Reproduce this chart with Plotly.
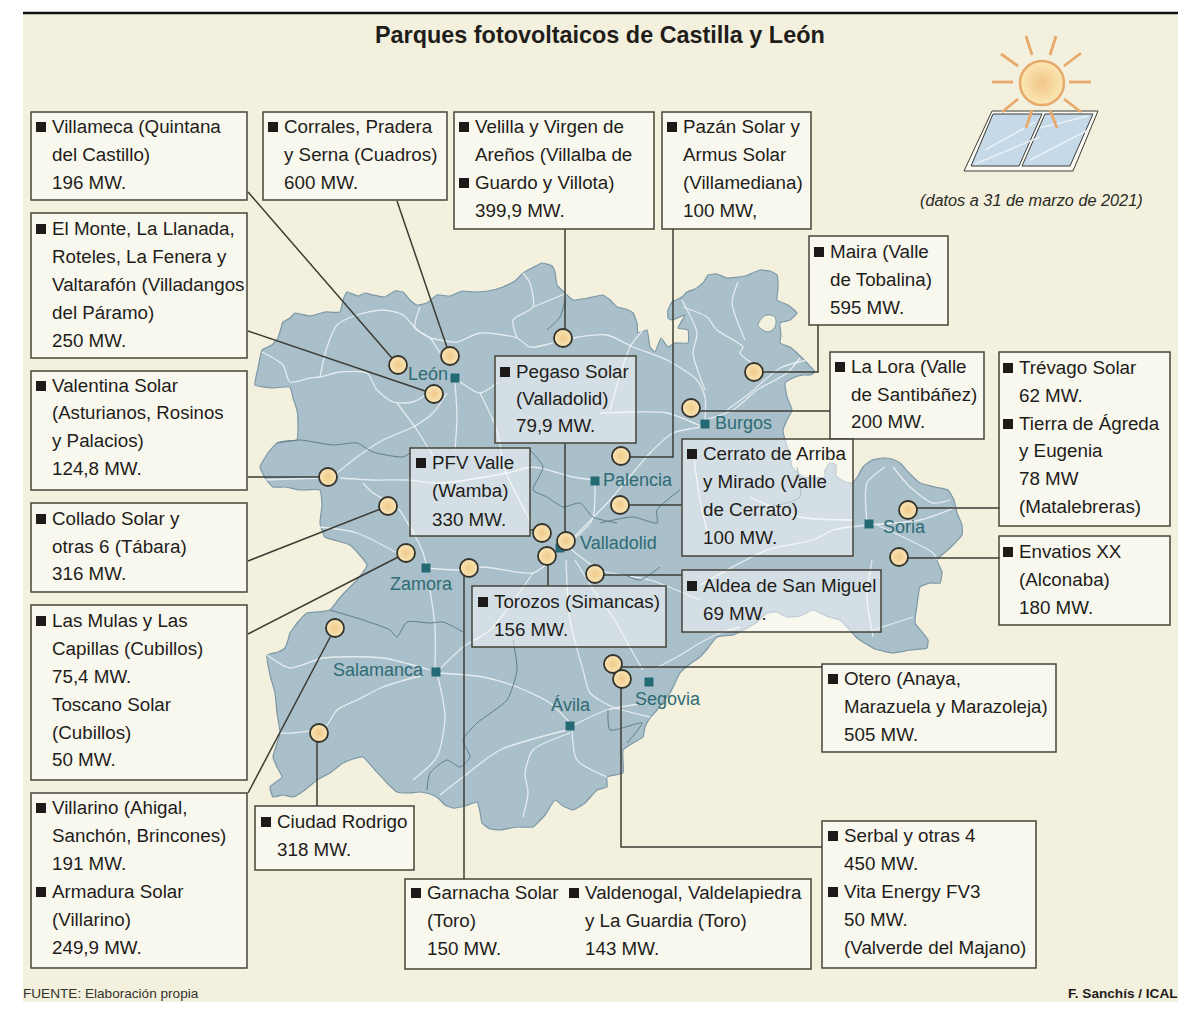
import plotly.graph_objects as go

# ---------- map geometry ----------
region_outline = [(255,385),(258,368),(262,350),(272,345),(278,338),(281,328),(283,322),(290,318),(295,313),(310,316),(325,312),(340,312),(343,300),(347,292),(358,296),(365,293),(373,295),(385,297),(395,291),(403,292),(410,300),(417,305),(427,303),(437,295),(450,296),(462,291),(473,292),(488,291),(503,287),(515,281),(523,273),(532,268),(542,263),(552,266),(555,272),(557,285),(565,293),(573,300),(588,298),(603,295),(610,300),(617,307),(626,309),(633,313),(637,323),(638,333),(647,330),(650,347),(655,352),(661,338),(668,347),(675,343),(688,343),(688,330),(678,328),(685,315),(672,320),(668,318),(668,310),(672,302),(682,297),(687,292),(695,289),(703,283),(708,275),(717,274),(727,278),(745,276),(760,270),(770,271),(777,275),(778,288),(777,300),(788,305),(797,313),(790,320),(780,323),(781,335),(780,343),(790,347),(797,353),(806,362),(815,372),(810,375),(803,375),(793,378),(785,383),(787,397),(792,410),(787,420),(783,430),(785,440),(790,455),(792,467),(803,477),(825,477),(825,470),(830,463),(836,465),(836,476),(845,482),(852,483),(858,476),(863,467),(872,460),(883,458),(892,459),(900,463),(910,474),(920,483),(935,487),(948,490),(954,500),(957,513),(962,525),(962,535),(950,548),(937,560),(942,572),(940,583),(930,583),(920,587),(917,605),(915,623),(922,632),(928,640),(927,648),(910,650),(893,653),(875,649),(857,638),(848,628),(840,620),(826,616),(813,610),(800,616),(787,617),(777,612),(767,613),(757,622),(747,628),(733,635),(717,637),(708,648),(700,657),(690,664),(680,673),(675,683),(670,693),(663,702),(657,710),(650,718),(645,727),(643,737),(633,743),(623,750),(623,773),(607,777),(607,787),(597,790),(585,803),(573,810),(563,806),(555,800),(545,815),(533,827),(517,827),(500,830),(490,829),(482,823),(480,812),(477,802),(465,806),(453,808),(445,805),(438,798),(430,794),(420,792),(408,793),(397,792),(387,783),(375,770),(363,757),(353,759),(343,763),(330,773),(317,780),(305,790),(293,797),(283,795),(273,797),(270,787),(282,777),(277,767),(273,757),(280,733),(277,713),(275,693),(270,675),(267,655),(278,652),(285,648),(288,640),(290,633),(298,622),(307,613),(318,612),(330,610),(338,600),(345,592),(357,580),(367,565),(350,545),(325,537),(320,523),(322,505),(320,490),(300,490),(285,487),(273,487),(265,478),(260,467),(268,453),(277,443),(285,441),(297,440),(298,425),(297,410),(293,398),(290,387),(272,388)]

trevino_hole = [(758,325),(762,318),(767,315),(775,317),(775,327),(768,332),(760,328)]

roads = [
    [(262,352),(283,365),(290,382),(310,378),(320,377),(340,372),(367,373),(377,390),(393,402),(413,402),(433,390)],
    [(320,377),(327,347),(337,325),(357,315),(383,310),(403,315),(417,330),(430,338),(440,353)],
    [(420,307),(415,327),(430,338)],
    [(430,338),(457,342),(480,333),(517,338),(530,347),(553,343)],
    [(573,338),(607,335),(633,347),(667,360),(697,380),(705,397),(705,420)],
    [(517,338),(513,320),(533,307),(530,283),(523,273)],
    [(533,307),(567,293)],
    [(455,383),(457,417),(455,450)],
    [(447,393),(433,413),(413,427),(383,440),(357,457),(337,473)],
    [(397,403),(417,430),(437,463)],
    [(340,478),(373,480),(407,480),(440,483),(507,473),(533,467),(573,477),(593,480)],
    [(455,378),(480,393),(497,383)],
    [(480,393),(497,430),(505,470),(530,520)],
    [(262,480),(320,478)],
    [(363,483),(373,493),(397,507),(410,527),(422,550),(427,567)],
    [(320,527),(357,533),(397,553)],
    [(427,568),(460,570),(483,567),(533,573),(548,563)],
    [(430,590),(435,627),(435,670)],
    [(437,672),(463,647),(490,630),(533,573)],
    [(267,655),(290,668),(323,658),(383,658),(430,670)],
    [(423,675),(383,687),(357,700),(337,710),(325,727),(293,733),(278,733)],
    [(437,673),(483,677),(517,687),(550,703),(570,723)],
    [(438,677),(445,717),(437,757),(413,780)],
    [(567,730),(500,750),(463,777),(440,795)],
    [(572,730),(577,760),(607,777)],
    [(570,733),(533,750),(525,773),(528,793),(523,817)],
    [(570,727),(607,710),(647,703)],
    [(566,560),(570,620),(583,670),(590,693),(613,707),(650,717)],
    [(575,560),(600,600),(613,617),(633,653),(643,670)],
    [(658,667),(677,657),(700,643),(720,633),(740,627)],
    [(566,545),(610,500),(650,453),(673,433),(703,427)],
    [(705,420),(733,410),(757,390),(787,373),(800,358)],
    [(727,410),(750,393),(780,368),(807,360)],
    [(682,300),(697,333),(693,353),(705,390)],
    [(683,307),(707,317),(717,330),(743,347),(740,353),(767,373)],
    [(738,282),(732,303),(745,340)],
    [(600,413),(633,412),(667,413),(703,427)],
    [(610,410),(630,347),(643,330)],
    [(867,525),(920,520),(957,507)],
    [(867,525),(833,530),(813,540),(767,550),(700,585)],
    [(885,467),(867,483),(867,523)],
    [(893,467),(910,487),(933,503),(950,500)],
    [(877,525),(933,553),(937,560)],
    [(750,497),(800,517),(853,520)],
    [(872,560),(867,597),(873,637)],
    [(873,630),(913,617)],
    [(693,450),(700,500),(710,543)],
    [(566,545),(600,570),(650,580),(700,600)],
    [(595,481),(592,520),(566,545)],
]

province_borders = [
    [(277,443),(300,440),(333,445),(357,443),(373,452),(403,457),(410,453)],
    [(565,300),(560,317),(547,330)],
    [(530,450),(543,467),(533,490),(547,497),(563,507),(580,503),(593,517),(617,523)],
    [(330,610),(363,620),(390,630),(397,637),(407,622),(430,623),(443,622),(463,632)],
    [(513,640),(517,670),(507,700),(477,723),(463,740),(470,757),(460,767),(447,760),(430,773),(427,790)],
    [(608,710),(610,730),(642,723),(627,743)],
    [(797,467),(800,497),(770,507)],
    [(600,523),(633,517),(657,523),(657,510),(680,490)],
    [(660,567),(640,580),(625,575)],
]

# ---------- plants and leader lines ----------
plant_x = [398,450,434,563,754,691,621,620,328,388,406,469,542,566,547,595,335,319,613,622,908,899]
plant_y = [365,356,394,338,372,408,456,505,477,506,553,568,533,541,556,574,628,733,664,679,510,557]

leaders = [
    [(248,192),(398,365)], [(397,201),(450,356)], [(248,331),(434,394)],
    [(565,229),(565,338)], [(673,229),(673,457),(621,457)], [(818,325),(818,372),(754,372)],
    [(830,411),(691,411)], [(565,443),(565,541)], [(530,530),(542,530)],
    [(682,505),(620,505)], [(248,477),(328,477)], [(248,561),(388,506)],
    [(682,575),(595,575)], [(548,586),(548,556)], [(248,634),(406,553)],
    [(248,793),(335,628)], [(317,806),(317,733)], [(464,879),(464,568)],
    [(822,667),(613,667)], [(822,847),(621,847),(621,679)],
    [(1000,508),(908,508)], [(1000,558),(899,558)],
]

# ---------- cities ----------
city_names = ["León","Burgos","Palencia","Valladolid","Zamora","Soria","Salamanca","Ávila","Segovia"]
city_x = [455,705,595,560,426,869,436,570,649]
city_y = [378,424,481,548,568,524,672,726,682]
city_label_x = [428,743,638,618,421,904,378,571,668]
city_label_y = [375,424,481,544,585,528,671,706,700]

# ---------- boxes ----------
box_rects = [
    (31,112,247,200),(263,112,447,200),(454,112,654,229),(662,112,811,229),(31,213,247,358),
    (809,236,948,325),(830,352,984,439),(999,352,1170,526),(999,536,1170,625),(495,356,636,443),
    (410,448,530,536),(682,439,853,556),(31,371,247,490),(31,503,247,592),(682,570,881,632),
    (472,586,666,647),(31,605,247,780),(822,664,1056,752),(31,793,247,968),(255,806,414,870),
    (405,879,811,969),(822,821,1036,968),
]

# text column x, line y, text, bullet?
box_lines = [
    (52,127,"Villameca (Quintana",1),(52,155,"del Castillo)",0),(52,183,"196 MW.",0),
    (284,127,"Corrales, Pradera",1),(284,155,"y Serna (Cuadros)",0),(284,183,"600 MW.",0),
    (475,127,"Velilla y Virgen de",1),(475,155,"Areños (Villalba de",0),(475,183,"Guardo y Villota)",1),(475,211,"399,9 MW.",0),
    (683,127,"Pazán Solar y",1),(683,155,"Armus Solar",0),(683,183,"(Villamediana)",0),(683,211,"100 MW,",0),
    (52,229,"El Monte, La Llanada,",1),(52,257,"Roteles, La Fenera y",0),(52,285,"Valtarafón (Villadangos",0),(52,313,"del Páramo)",0),(52,341,"250 MW.",0),
    (830,252,"Maira (Valle",1),(830,280,"de Tobalina)",0),(830,308,"595 MW.",0),
    (851,367,"La Lora (Valle",1),(851,395,"de Santibáñez)",0),(851,422,"200 MW.",0),
    (1019,368,"Trévago Solar",1),(1019,396,"62 MW.",0),(1019,424,"Tierra de Ágreda",1),(1019,451,"y Eugenia",0),(1019,479,"78 MW",0),(1019,507,"(Matalebreras)",0),
    (1019,552,"Envatios XX",1),(1019,580,"(Alconaba)",0),(1019,608,"180 MW.",0),
    (516,372,"Pegaso Solar",1),(516,399,"(Valladolid)",0),(516,426,"79,9 MW.",0),
    (432,463,"PFV Valle",1),(432,491,"(Wamba)",0),(432,520,"330 MW.",0),
    (703,454,"Cerrato de Arriba",1),(703,482,"y Mirado (Valle",0),(703,510,"de Cerrato)",0),(703,538,"100 MW.",0),
    (52,386,"Valentina Solar",1),(52,413,"(Asturianos, Rosinos",0),(52,441,"y Palacios)",0),(52,469,"124,8 MW.",0),
    (52,519,"Collado Solar y",1),(52,547,"otras 6 (Tábara)",0),(52,574,"316 MW.",0),
    (703,586,"Aldea de San Miguel",1),(703,614,"69 MW.",0),
    (494,602,"Torozos (Simancas)",1),(494,630,"156 MW.",0),
    (52,621,"Las Mulas y Las",1),(52,649,"Capillas (Cubillos)",0),(52,677,"75,4 MW.",0),(52,705,"Toscano Solar",0),(52,733,"(Cubillos)",0),(52,760,"50 MW.",0),
    (844,679,"Otero (Anaya,",1),(844,707,"Marazuela y Marazoleja)",0),(844,735,"505 MW.",0),
    (52,808,"Villarino (Ahigal,",1),(52,836,"Sanchón, Brincones)",0),(52,864,"191 MW.",0),(52,892,"Armadura Solar",1),(52,920,"(Villarino)",0),(52,948,"249,9 MW.",0),
    (277,822,"Ciudad Rodrigo",1),(277,850,"318 MW.",0),
    (427,893,"Garnacha Solar",1),(427,921,"(Toro)",0),(427,949,"150 MW.",0),
    (585,893,"Valdenogal, Valdelapiedra",1),(585,921,"y La Guardia (Toro)",0),(585,949,"143 MW.",0),
    (844,836,"Serbal y otras 4",1),(844,864,"450 MW.",0),(844,892,"Vita Energy FV3",1),(844,920,"50 MW.",0),(844,948,"(Valverde del Majano)",0),
]

# ---------- sun and panel ----------
sun_rays = [[(1013,82),(992,82)],[(1018,66),(1001,54)],[(1032,55),(1026,36)],[(1050,55),(1056,36)],[(1064,66),(1081,53)],
            [(1069,82),(1091,82)],[(1064,99),(1081,112)],[(1050,110),(1057,128)],[(1032,110),(1026,128)],[(1018,99),(1002,112)]]
panel_frame = [(992,111),(1098,111),(1073,171),(964,171),(992,111)]
pane_left = [(993,114),(1042,114),(1019,166),(971,166),(993,114)]
pane_right = [(1045,114),(1093,114),(1070,166),(1022,166),(1045,114)]
panel_glints = [[(985,150),(1035,122)],[(975,164),(1040,137)],[(1030,160),(1088,130)],[(1040,128),(1088,116)]]

BG = "#f3f0de"; INK = "#1f1d1a"; MAPC = "#a9bfca"; EDGE = "#7c98a6"; TEAL = "#2f6b74"; LINE = "#3c3c34"; SUN = "#e7a96c"

def xs(p): return [a for a, _ in p]
def ys(p): return [b for _, b in p]
def multi(paths):
    X, Y = [], []
    for p in paths:
        X += xs(p) + [None]; Y += ys(p) + [None]
    return X, Y

fig = go.Figure()
closed = region_outline + region_outline[:1]
fig.add_trace(go.Scatter(x=xs(closed), y=ys(closed), mode="lines", fill="toself", fillcolor=MAPC,
                         line=dict(color=EDGE, width=1.2, shape="spline", smoothing=0.4), hoverinfo="skip"))
hole = trevino_hole + trevino_hole[:1]
fig.add_trace(go.Scatter(x=xs(hole), y=ys(hole), mode="lines", fill="toself", fillcolor=BG,
                         line=dict(color=EDGE, width=1, shape="spline"), hoverinfo="skip"))
for r in roads:
    fig.add_trace(go.Scatter(x=xs(r), y=ys(r), mode="lines", line=dict(color="rgba(238,243,246,0.85)", width=1.3, shape="spline", smoothing=0.7), hoverinfo="skip"))
for b in province_borders:
    fig.add_trace(go.Scatter(x=xs(b), y=ys(b), mode="lines", line=dict(color="#5f7f8e", width=1, shape="spline", smoothing=0.6), hoverinfo="skip"))

# city squares
fig.add_trace(go.Scatter(x=city_x, y=city_y, mode="markers", marker=dict(symbol="square", size=9, color="#236a74"), hoverinfo="skip"))

# leaders and plants
lx, ly = multi(leaders)
fig.add_trace(go.Scatter(x=lx, y=ly, mode="lines", line=dict(color=LINE, width=1.5), hoverinfo="skip"))
fig.add_trace(go.Scatter(x=plant_x, y=plant_y, mode="markers", hoverinfo="skip",
                         marker=dict(symbol="circle", size=18, color="#fbe6b6", gradient=dict(type="radial", color="#efc98b"),
                                     line=dict(color="#35342c", width=1.8))))

# panel and sun
fig.add_trace(go.Scatter(x=xs(panel_frame), y=ys(panel_frame), mode="lines", fill="toself", fillcolor="#fbfaf5", line=dict(color=LINE, width=1), hoverinfo="skip"))
for pane in (pane_left, pane_right):
    fig.add_trace(go.Scatter(x=xs(pane), y=ys(pane), mode="lines", fill="toself", fillcolor="#c5d9e8", line=dict(color=LINE, width=1), hoverinfo="skip"))
gx, gy = multi(panel_glints)
fig.add_trace(go.Scatter(x=gx, y=gy, mode="lines", line=dict(color="rgba(235,243,248,0.9)", width=1.5), hoverinfo="skip"))
rx, ry = multi(sun_rays)
fig.add_trace(go.Scatter(x=rx, y=ry, mode="lines", line=dict(color=SUN, width=2.8), hoverinfo="skip"))
fig.add_trace(go.Scatter(x=[1042], y=[83], mode="markers", hoverinfo="skip",
                         marker=dict(size=44, color="#fbe8b4", gradient=dict(type="radial", color="#f1c587"), line=dict(color=SUN, width=2.5))))

shapes = [
    dict(type="rect", x0=23, x1=1178, y0=13, y1=1002, fillcolor=BG, line_width=0, layer="below"),
    dict(type="line", x0=23, x1=1178, y0=13, y1=13, line=dict(color="#111", width=2.5), layer="above"),
]
for x0, y0, x1, y1 in box_rects:
    shapes.append(dict(type="rect", x0=x0, x1=x1, y0=y0, y1=y1, fillcolor="rgba(255,255,255,0.5)",
                       line=dict(color="#45443a", width=1.5), layer="above"))

annotations = []
def txt(x, y, s, size=20, color=INK, anchor="left", **kw):
    annotations.append(dict(x=x, y=y, text=s, showarrow=False, xanchor=anchor, yanchor="middle", borderpad=0, borderwidth=0,
                            font=dict(family="Liberation Sans", size=size, color=color, **kw)))

for x, y, s, bullet in box_lines:
    txt(x, y-1, s, size=18.6 if s.startswith(("(Asturianos", "Marazuela")) else 18.8)
    if bullet:
        shapes.append(dict(type="rect", x0=x-16, x1=x-6, y0=y-5, y1=y+5, fillcolor="#1f1a1a", line_width=0, layer="above"))

for name, x, y in zip(city_names, city_label_x, city_label_y):
    txt(x, y-1, name, size=18, color=TEAL, anchor="center")

txt(600, 35, "<b>Parques fotovoltaicos de Castilla y León</b>", size=23.4, anchor="center")
txt(1031, 200, "<i>(datos a 31 de marzo de 2021)</i>", size=16.3, anchor="center", color="#2a2a24")
txt(23, 993, "FUENTE: Elaboración propia", size=13.6, color="#33332c")
txt(1178, 993, "<b>F. Sanchís / ICAL</b>", size=13.6, anchor="right", color="#1f1d1a")

fig.update_layout(
    width=1200, height=1009, margin=dict(l=0, r=0, t=0, b=0), showlegend=False,
    paper_bgcolor="white", plot_bgcolor="white",
    xaxis=dict(range=[0, 1200], visible=False, fixedrange=True),
    yaxis=dict(range=[1009, 0], visible=False, fixedrange=True),
    shapes=shapes, annotations=annotations,
)
fig.write_html("out.html", config=dict(displayModeBar=False),
               post_script="document.body.style.margin='0';document.body.style.overflow='hidden';")
